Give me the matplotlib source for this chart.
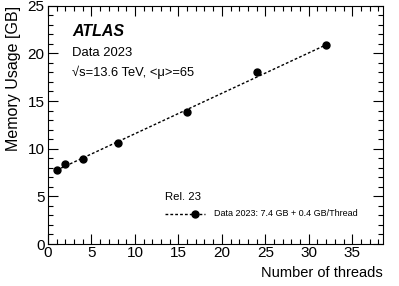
import numpy as np
import matplotlib.pyplot as plt
from matplotlib.ticker import MultipleLocator

plt.rcParams['font.family'] = ['Liberation Sans', 'DejaVu Sans']

# measured points
threads = [1, 2, 4, 8, 16, 24, 32]
memory = [7.8, 8.35, 8.95, 10.6, 13.85, 18.05, 20.9]

# fit line endpoints
fit_x = [1, 32]
fit_y = [7.75, 20.9]

fig = plt.figure(figsize=(3.99, 2.86), dpi=100)
ax = fig.add_axes([48/399, 42/286, 334.7/399, 238.3/286])

ax.plot(fit_x, fit_y, ls=(0, (2, 1.5)), color='black', lw=1.0)
ax.plot(threads, memory, 'o', color='black', ms=5)

ax.set_xlim(0, 38.5)
ax.set_ylim(0, 25)
ax.xaxis.set_major_locator(MultipleLocator(5))
ax.xaxis.set_minor_locator(MultipleLocator(1))
ax.yaxis.set_major_locator(MultipleLocator(5))
ax.yaxis.set_minor_locator(MultipleLocator(1))
ax.tick_params(which='both', direction='in', top=True, right=True, labelsize=11, width=0.8)
ax.tick_params(which='major', length=7)
ax.tick_params(which='minor', length=3.5)
ax.tick_params(axis='x', which='major', pad=1.5)
ax.tick_params(axis='y', which='major', pad=2.5)
for s in ax.spines.values():
    s.set_linewidth(0.8)

ax.set_xlabel('Number of threads', fontsize=10.5, loc='right', labelpad=4)
ax.set_ylabel('Memory Usage [GB]', fontsize=11.5, loc='top', labelpad=5)

def ft(x, y, s, **kw):
    fig.text(x/399, 1 - y/286, s, va='baseline', ha='left', **kw)

ft(72.5, 36, 'ATLAS', fontsize=11.5, weight='bold', style='italic')
ft(72.5, 56, 'Data 2023', fontsize=9.4)
ft(72.5, 76, '√s=13.6 TeV, <μ>=65', fontsize=9.3)
ft(165, 200, 'Rel. 23', fontsize=8.2)

# legend entry
lx = np.array([165, 205]) / 399
ly = 1 - 214/286
fig.add_artist(plt.Line2D(lx, [ly, ly], ls=(0, (2, 1.5)), color='black', lw=1.0))
fig.add_artist(plt.Line2D([195/399], [ly], marker='o', color='black', ms=5))
fig.text(214/399, ly, 'Data 2023: 7.4 GB + 0.4 GB/Thread', fontsize=6.5, va='center', ha='left')

fig.savefig('out.png', dpi=100)
